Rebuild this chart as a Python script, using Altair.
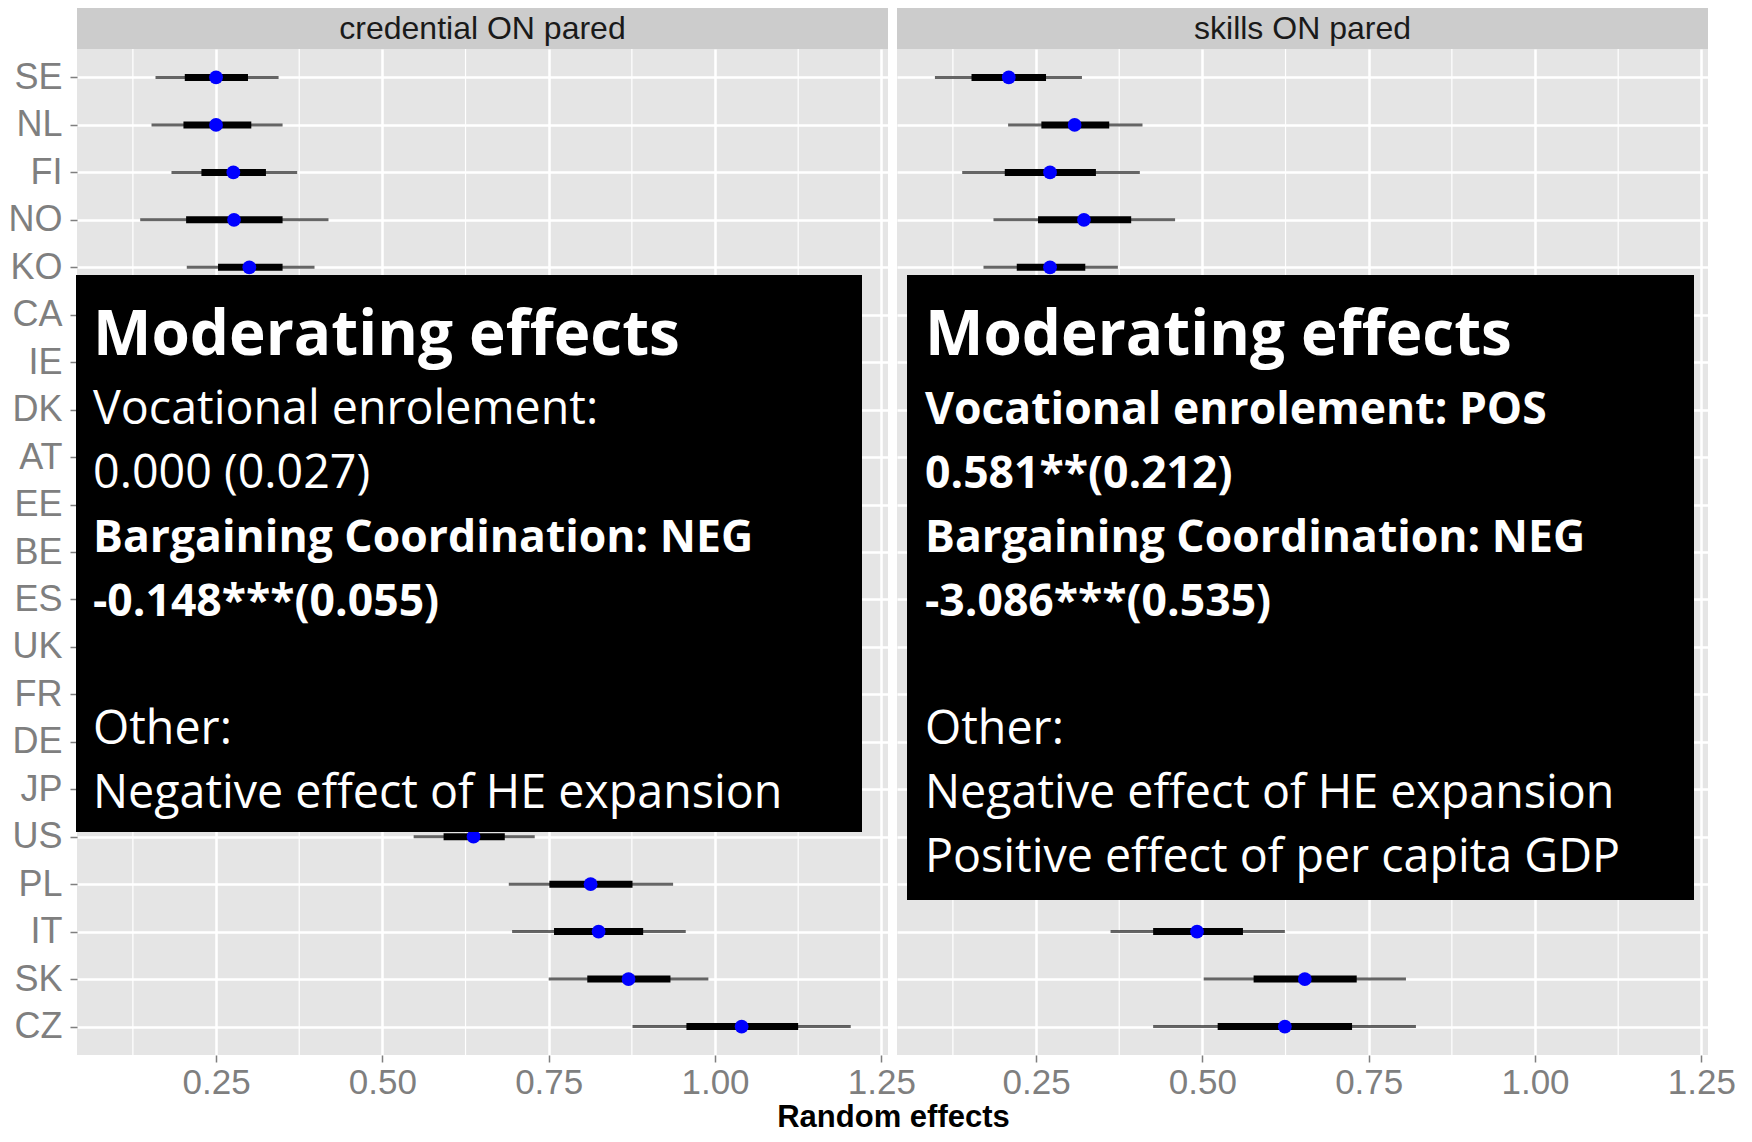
import altair as alt
import pandas as pd

countries = ["SE", "NL", "FI", "NO", "KO", "CA", "IE", "DK", "AT", "EE", "BE",
             "ES", "UK", "FR", "DE", "JP", "US", "PL", "IT", "SK", "CZ"]

# panel 1: credential ON pared
cred_est  = [0.250, 0.250, 0.276, 0.277, 0.300, 0.33, 0.35, 0.36, 0.38, 0.40, 0.42,
             0.45, 0.47, 0.50, 0.52, 0.56, 0.637, 0.813, 0.825, 0.870, 1.040]
cred_lo50 = [0.203, 0.201, 0.228, 0.205, 0.253, 0.28, 0.30, 0.31, 0.33, 0.35, 0.37,
             0.40, 0.42, 0.45, 0.47, 0.51, 0.592, 0.751, 0.758, 0.808, 0.957]
cred_hi50 = [0.298, 0.303, 0.325, 0.350, 0.350, 0.38, 0.40, 0.41, 0.43, 0.45, 0.47,
             0.50, 0.52, 0.55, 0.57, 0.61, 0.684, 0.876, 0.892, 0.933, 1.125]
cred_lo95 = [0.159, 0.153, 0.183, 0.136, 0.206, 0.23, 0.25, 0.26, 0.28, 0.30, 0.32,
             0.35, 0.37, 0.40, 0.42, 0.46, 0.547, 0.690, 0.695, 0.750, 0.876]
cred_hi95 = [0.344, 0.350, 0.372, 0.419, 0.398, 0.43, 0.45, 0.46, 0.48, 0.50, 0.52,
             0.55, 0.57, 0.60, 0.62, 0.66, 0.729, 0.937, 0.956, 0.990, 1.204]

# panel 2: skills ON pared
sk_est  = [0.209, 0.308, 0.271, 0.322, 0.271, 0.30, 0.42, 0.33, 0.55, 0.38, 0.45,
           0.50, 0.41, 0.48, 0.60, 0.52, 0.44, 0.58, 0.492, 0.654, 0.624]
sk_lo50 = [0.153, 0.258, 0.203, 0.253, 0.221, 0.25, 0.37, 0.28, 0.49, 0.33, 0.40,
           0.45, 0.36, 0.43, 0.54, 0.47, 0.39, 0.52, 0.426, 0.577, 0.523]
sk_hi50 = [0.265, 0.360, 0.340, 0.393, 0.324, 0.35, 0.47, 0.38, 0.61, 0.43, 0.50,
           0.55, 0.46, 0.53, 0.66, 0.57, 0.49, 0.64, 0.561, 0.732, 0.725]
sk_lo95 = [0.098, 0.208, 0.139, 0.186, 0.171, 0.20, 0.32, 0.23, 0.43, 0.28, 0.35,
           0.40, 0.31, 0.38, 0.48, 0.42, 0.34, 0.46, 0.362, 0.502, 0.426]
sk_hi95 = [0.319, 0.410, 0.406, 0.459, 0.373, 0.40, 0.52, 0.43, 0.67, 0.48, 0.55,
           0.60, 0.51, 0.58, 0.72, 0.62, 0.54, 0.70, 0.624, 0.806, 0.821]

panel_titles = ["credential ON pared", "skills ON pared"]
x_ticks = [0.25, 0.50, 0.75, 1.00, 1.25]
minor_breaks = [0.125, 0.375, 0.625, 0.875, 1.125]
x_title = "Random effects"

left_lines = ["Moderating effects", "Vocational enrolement:", "0.000 (0.027)",
              "Bargaining Coordination: NEG", "-0.148***(0.055)", "",
              "Other:", "Negative effect of HE expansion"]
left_bold = [True, False, False, True, True, False, False, False]
right_lines = ["Moderating effects", "Vocational enrolement: POS", "0.581**(0.212)",
               "Bargaining Coordination: NEG", "-3.086***(0.535)", "",
               "Other:", "Negative effect of HE expansion",
               "Positive effect of per capita GDP"]
right_bold = [True, True, True, True, True, False, False, False, False]

W, H = 811, 1006
STRIP_H = 41
xscale = alt.Scale(domain=[0.041, 1.26], nice=False, zero=False)
yscale = alt.Scale(domain=countries, type="point", padding=0.6)
dummy = pd.DataFrame({"d": [0]})


def panel(title, est, lo50, hi50, lo95, hi95, lines, bold, box, text_x, first):
    df = pd.DataFrame({"country": countries, "est": est, "lo50": lo50,
                       "hi50": hi50, "lo95": lo95, "hi95": hi95})
    base = alt.Chart(df)
    if first:
        xaxis = alt.Axis(values=x_ticks, format=".2f", title=x_title,
                         titleX=816, titleY=71, titleAlign="center",
                         titleBaseline="alphabetic", titleFont="Liberation Sans",
                         titleFontSize=31, titleFontWeight="bold", titleColor="black")
        yaxis = alt.Axis(title=None, labelPadding=8, grid=True)
    else:
        xaxis = alt.Axis(values=x_ticks, format=".2f", title=None)
        yaxis = alt.Axis(title=None, labels=False, ticks=False, grid=True)

    minor = alt.Chart(pd.DataFrame({"m": minor_breaks})).mark_rule(
        color="white", strokeWidth=1.2).encode(
        x=alt.X("m:Q", scale=xscale, axis=xaxis))
    thin = base.mark_rule(color="black", opacity=0.6, strokeWidth=3).encode(
        x=alt.X("lo95:Q", scale=xscale, axis=xaxis), x2="hi95:Q",
        y=alt.Y("country:N", scale=yscale, axis=yaxis))
    thick = base.mark_rule(color="black", strokeWidth=7).encode(
        x=alt.X("lo50:Q", scale=xscale, axis=xaxis), x2="hi50:Q",
        y=alt.Y("country:N", scale=yscale, axis=yaxis))
    pts = base.mark_point(filled=True, shape="circle", size=190,
                          color="#0000FF", opacity=1).encode(
        x=alt.X("est:Q", scale=xscale, axis=xaxis),
        y=alt.Y("country:N", scale=yscale, axis=yaxis))

    bx0, bx1, by0, by1 = box
    rect = alt.Chart(dummy).mark_rect(color="black").encode(
        x=alt.value(bx0), x2=alt.value(bx1), y=alt.value(by0), y2=alt.value(by1))

    texts = []
    for i, (t, b) in enumerate(zip(lines, bold)):
        if not t:
            continue
        if i == 0:
            ty, fs = 306, 62
        else:
            ty, fs = 375 + (i - 1) * 64, (44.5 if b else 46.6)
        texts.append(alt.Chart(dummy).mark_text(
            align="left", baseline="alphabetic", font="Open Sans", fontSize=fs,
            fontWeight="bold" if b else "normal", color="white").encode(
            x=alt.value(text_x), y=alt.value(ty), text=alt.value(t)))

    strip = alt.Chart(dummy).mark_rect(color="#CCCCCC").encode(
        x=alt.value(0), x2=alt.value(W), y=alt.value(-STRIP_H), y2=alt.value(0))
    strip_text = alt.Chart(dummy).mark_text(
        align="center", baseline="middle", font="Liberation Sans", fontSize=32,
        color="#1A1A1A").encode(
        x=alt.value(W / 2), y=alt.value(-STRIP_H / 2), text=alt.value(title))

    return alt.layer(minor, thin, thick, pts, rect, *texts, strip, strip_text).properties(
        width=W, height=H)


left = panel(panel_titles[0], cred_est, cred_lo50, cred_hi50, cred_lo95, cred_hi95,
             left_lines, left_bold, (-1, 785, 226, 783), 16, True)
right = panel(panel_titles[1], sk_est, sk_lo50, sk_hi50, sk_lo95, sk_hi95,
              right_lines, right_bold, (10, 797, 226, 851), 28, False)

chart = alt.hconcat(left, right, spacing=9, bounds="flush", padding=0).configure_view(
    fill="#E5E5E5", stroke=None
).configure_axis(
    labelFont="Liberation Sans", labelFontSize=36, labelColor="#7F7F7F",
    tickColor="#7F7F7F", tickSize=7, tickWidth=1.5, domain=False,
    gridColor="white", gridWidth=2.5, labelFlush=False
).configure_axisX(labelPadding=3, labelFontSize=35)

chart.save("out.html", embed_options={"renderer": "svg", "actions": False})
